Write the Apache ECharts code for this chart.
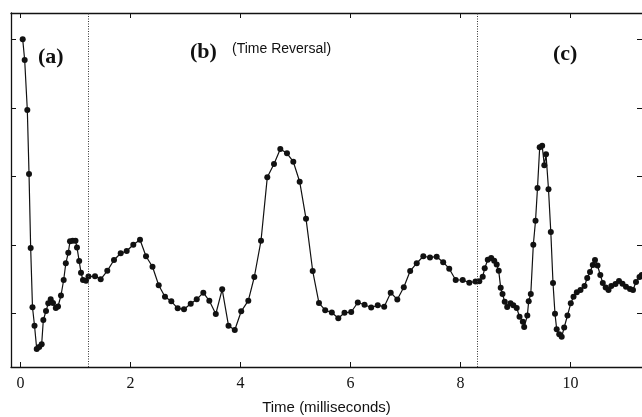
<!DOCTYPE html>
<html>
<head>
<meta charset="utf-8">
<script src="https://cdn.jsdelivr.net/npm/echarts@6/dist/echarts.min.js"></script>
<style>html,body{margin:0;padding:0;background:#fff}#c{width:642px;height:417px}</style>
</head>
<body>
<div id="c"></div>
<script>
// Time in milliseconds
const times = [0.040,0.076,0.124,0.155,0.185,0.218,0.255,0.295,0.340,0.385,0.415,0.464,0.505,0.549,0.591,0.642,0.682,0.736,0.785,0.824,0.869,0.900,0.949,1.000,1.027,1.067,1.100,1.136,1.191,1.236,1.355,1.458,1.578,1.700,1.822,1.931,2.051,2.173,2.282,2.400,2.513,2.627,2.742,2.858,2.973,3.095,3.204,3.324,3.433,3.551,3.667,3.782,3.896,4.013,4.142,4.251,4.373,4.487,4.609,4.724,4.845,4.960,5.076,5.191,5.313,5.427,5.540,5.660,5.778,5.891,6.013,6.133,6.255,6.376,6.496,6.613,6.731,6.851,6.969,7.085,7.204,7.324,7.445,7.567,7.685,7.795,7.913,8.040,8.160,8.273,8.342,8.404,8.440,8.496,8.558,8.613,8.658,8.695,8.731,8.764,8.804,8.849,8.909,8.960,9.022,9.073,9.133,9.158,9.215,9.240,9.278,9.324,9.364,9.400,9.440,9.485,9.524,9.555,9.600,9.642,9.682,9.718,9.749,9.795,9.840,9.885,9.945,10.005,10.055,10.115,10.182,10.255,10.304,10.355,10.405,10.445,10.491,10.542,10.587,10.640,10.691,10.742,10.818,10.882,10.945,11.009,11.082,11.136,11.191,11.255,11.295];
// Signal amplitude (arbitrary units, tick spacing = 1)
const values = [4.003,3.701,2.971,2.036,0.956,0.091,-0.178,-0.518,-0.489,-0.450,-0.095,0.036,0.149,0.209,0.153,0.080,0.102,0.263,0.489,0.733,0.888,1.055,1.061,1.061,0.964,0.766,0.596,0.489,0.477,0.540,0.543,0.499,0.623,0.781,0.879,0.912,1.004,1.077,0.835,0.683,0.412,0.245,0.178,0.076,0.061,0.142,0.207,0.304,0.185,-0.007,0.353,-0.178,-0.241,0.032,0.187,0.533,1.063,1.988,2.182,2.401,2.339,2.216,1.924,1.384,0.620,0.153,0.048,0.015,-0.070,0.010,0.022,0.161,0.128,0.088,0.121,0.098,0.304,0.204,0.384,0.620,0.734,0.836,0.818,0.829,0.749,0.654,0.489,0.489,0.450,0.467,0.470,0.537,0.660,0.785,0.810,0.769,0.715,0.623,0.375,0.285,0.172,0.095,0.149,0.120,0.080,-0.047,-0.120,-0.197,-0.029,0.180,0.285,1.004,1.355,1.832,2.428,2.448,2.165,2.326,1.813,1.190,0.445,-0.004,-0.231,-0.302,-0.339,-0.204,-0.029,0.149,0.245,0.311,0.343,0.401,0.518,0.606,0.708,0.781,0.701,0.562,0.445,0.380,0.343,0.401,0.431,0.474,0.435,0.391,0.358,0.343,0.460,0.533,0.562];
const xTicks = [0, 2, 4, 6, 8, 10];
const yTicks = [0, 1, 2, 3, 4];
const dividers = [1.227, 8.30];
const panelLabels = ['(a)', '(b)', '(c)'];
const subLabel = '(Time Reversal)';
const xName = 'Time (milliseconds)';

const chart = echarts.init(document.getElementById('c'), null, {renderer: 'canvas'});
const ink = '#111';
const xMin = -0.1727, xMax = 11.3;
const yMin = -0.781, yMax = 4.387;

const tickStyle = {show: true, inside: true, length: 5, lineStyle: {color: ink, width: 1}};
chart.setOption({
  animation: false,
  backgroundColor: '#fff',
  grid: {left: 11, right: 0, top: 13, bottom: 50, containLabel: false, outerBoundsMode: 'none'},
  xAxis: [{
    type: 'value', min: xMin, max: xMax, position: 'bottom',
    axisLine: {show: true, onZero: false, lineStyle: {color: ink, width: 1.3}},
    axisTick: Object.assign({customValues: xTicks}, tickStyle),
    axisLabel: {customValues: xTicks, color: ink, fontFamily: 'Liberation Serif', fontSize: 16, margin: 9},
    splitLine: {show: false},
    name: xName, nameLocation: 'middle', nameGap: 33,
    nameTextStyle: {color: ink, fontFamily: 'Liberation Sans', fontSize: 15}
  }, {
    type: 'value', min: xMin, max: xMax, position: 'top',
    axisLine: {show: true, onZero: false, lineStyle: {color: ink, width: 1.3}},
    axisTick: Object.assign({customValues: xTicks}, tickStyle),
    axisLabel: {show: false}, splitLine: {show: false}
  }],
  yAxis: [{
    type: 'value', min: yMin, max: yMax, position: 'left',
    axisLine: {show: true, onZero: false, lineStyle: {color: ink, width: 1.3}},
    axisTick: Object.assign({customValues: yTicks}, tickStyle),
    axisLabel: {show: false}, splitLine: {show: false}
  }, {
    type: 'value', min: yMin, max: yMax, position: 'right',
    axisLine: {show: false, onZero: false},
    axisTick: Object.assign({customValues: yTicks}, tickStyle),
    axisLabel: {show: false}, splitLine: {show: false}
  }],
  series: [{
    type: 'line',
    data: times.map((t, i) => [t, values[i]]),
    symbol: 'circle', symbolSize: 6,
    itemStyle: {color: ink},
    lineStyle: {color: ink, width: 1.2},
    markLine: {
      silent: true, symbol: 'none', label: {show: false},
      lineStyle: {color: '#333', type: [1, 1.5], width: 1},
      data: dividers.map(d => ({xAxis: d}))
    }
  }],
  graphic: [
    {type: 'text', left: 38, top: 46, style: {text: panelLabels[0], fill: ink, font: '600 22px "Liberation Serif"'}},
    {type: 'text', left: 190, top: 41, style: {text: panelLabels[1], fill: ink, font: '600 22px "Liberation Serif"'}},
    {type: 'text', left: 232, top: 42, style: {text: subLabel, fill: ink, font: '14px "Liberation Sans"'}},
    {type: 'text', left: 553, top: 43, style: {text: panelLabels[2], fill: ink, font: '600 22px "Liberation Serif"'}}
  ]
});
</script>
</body>
</html>
